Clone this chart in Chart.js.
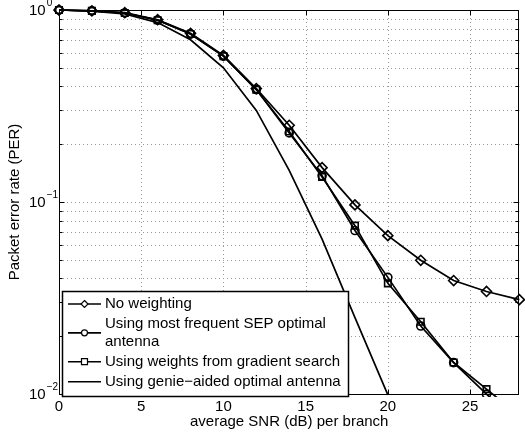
<!DOCTYPE html>
<html><head><meta charset="utf-8">
<script src="https://cdn.jsdelivr.net/npm/chart.js@4/dist/chart.umd.min.js"></script>
<style>html,body{margin:0;padding:0;background:#fff;overflow:hidden}canvas{display:block}</style>
</head><body>
<canvas id="c" width="526" height="438" style="width:526px;height:438px"></canvas>
<script>
// ---- data ----
const snr = [0, 2, 4, 6, 8, 10, 12, 14, 16, 18, 20, 22, 24, 26, 28];
const perNoWeighting     = [1.0, 0.99, 0.968, 0.89, 0.756, 0.58, 0.39, 0.251, 0.151, 0.0966, 0.0668, 0.0497, 0.039, 0.0342, 0.031];
const perMostFrequentSEP = [1.0, 0.99, 0.965, 0.885, 0.75, 0.575, 0.385, 0.229, 0.137, 0.071, 0.0405, 0.0226, 0.01457, 0.00998, 0.0069];
const perGradientSearch  = [1.0, 0.99, 0.965, 0.885, 0.75, 0.575, 0.385, 0.233, 0.135, 0.0753, 0.0377, 0.0238, 0.0146, 0.0106, 0.0077];
const snrGenie = [0, 2, 4, 6, 8, 10, 12, 14, 16, 18, 20];
const perGenie = [1.0, 0.985, 0.953, 0.86, 0.70, 0.50, 0.30, 0.146, 0.064, 0.025, 0.0099];
const seriesNames = ['No weighting', 'Using most frequent SEP optimal antenna', 'Using weights from gradient search', 'Using genie\u2212aided optimal antenna'];
const xTicks = [0, 5, 10, 15, 20, 25];
const yDecades = [0.01, 0.1, 1];
const yDecadeExponents = ['\u22122', '\u22121', '0'];
const xTitle = 'average SNR (dB) per branch';
const yTitle = 'Packet error rate (PER)';

const FONT = '"Liberation Sans", Arial, Helvetica, sans-serif';
const toPts = (xs, ys) => xs.map((x, i) => ({x: x, y: ys[i]}));
const markerStyles = ['rectRot', 'circle', 'rect', false];
const markerRadii = [5, 4, 4.6, 0];

const datasets = [
  {label: seriesNames[0], data: toPts(snr, perNoWeighting)},
  {label: seriesNames[1], data: toPts(snr, perMostFrequentSEP)},
  {label: seriesNames[2], data: toPts(snr, perGradientSearch)},
  {label: seriesNames[3], data: toPts(snrGenie, perGenie)}
].map((d, i) => Object.assign(d, {
  borderColor: '#000', borderWidth: 1.7, backgroundColor: 'rgba(0,0,0,0)',
  pointStyle: markerStyles[i] || 'circle', pointRadius: markerRadii[i],
  pointBorderColor: '#000', pointBackgroundColor: 'rgba(0,0,0,0)', pointBorderWidth: 1.6,
  pointHoverRadius: markerRadii[i], fill: false, tension: 0,
  clip: {left: 6, top: 6, right: 6, bottom: 3}
}));

function line(ctx, x1, y1, x2, y2) { ctx.beginPath(); ctx.moveTo(x1, y1); ctx.lineTo(x2, y2); ctx.stroke(); }

function drawMarker(ctx, style, x, y, r) {
  ctx.beginPath();
  if (style === 'rectRot') { ctx.moveTo(x, y - r); ctx.lineTo(x + r, y); ctx.lineTo(x, y + r); ctx.lineTo(x - r, y); ctx.closePath(); }
  else if (style === 'circle') { ctx.arc(x, y, r, 0, Math.PI * 2); }
  else if (style === 'rect') { ctx.rect(x - r, y - r, 2 * r, 2 * r); }
  else return;
  ctx.fillStyle = '#fff'; ctx.fill(); ctx.stroke();
}

function wrapText(ctx, text, maxW) {
  const words = text.split(' '); const lines = []; let cur = '';
  words.forEach(w => { const t = cur ? cur + ' ' + w : w; if (ctx.measureText(t).width > maxW && cur) { lines.push(cur); cur = w; } else cur = t; });
  if (cur) lines.push(cur); return lines;
}

const matlabAxes = {
  id: 'matlabAxes',
  beforeDatasetsDraw(chart) {
    const {ctx, chartArea: a, scales: {x, y}} = chart;
    ctx.save();
    ctx.strokeStyle = '#999'; ctx.lineWidth = 1; ctx.setLineDash([1, 3]);
    xTicks.forEach(v => { if (v <= x.min || v >= x.max) return; const px = Math.round(x.getPixelForValue(v)) + 0.5; line(ctx, px, a.top, px, a.bottom); });
    for (let d = 0; d < yDecades.length - 1; d++) {
      for (let m = 1; m < 10; m++) {
        const v = yDecades[d] * m; if (v <= y.min * 1.0001 || v >= y.max * 0.9999) continue;
        const py = Math.round(y.getPixelForValue(v)) + 0.5; line(ctx, a.left, py, a.right, py);
      }
    }
    ctx.restore();
  },
  afterDatasetsDraw(chart) {
    const {ctx, chartArea: a, scales: {x, y}} = chart;
    ctx.save();
    ctx.strokeStyle = '#000'; ctx.lineWidth = 1; ctx.setLineDash([]);
    const L = Math.round(a.left) + 0.5, R = Math.round(a.right) - 0.5, T = Math.round(a.top) + 0.5, B = Math.round(a.bottom) + 0.5;
    ctx.strokeRect(L, T, R - L, B - T);
    xTicks.forEach(v => { const px = Math.round(x.getPixelForValue(v)) + 0.5; line(ctx, px, B, px, B - 5); line(ctx, px, T, px, T + 5); });
    for (let d = 0; d < yDecades.length; d++) {
      for (let m = 1; m < 10; m++) {
        if (d === yDecades.length - 1 && m > 1) break;
        const v = yDecades[d] * m; const py = Math.round(y.getPixelForValue(v)) + 0.5;
        const len = m === 1 ? 5 : 3;
        line(ctx, L, py, L + len, py); line(ctx, R, py, R - len, py);
      }
    }
    ctx.restore();
  },
  afterDraw(chart) {
    const {ctx, scales: {y}} = chart;
    ctx.save();
    ctx.fillStyle = '#000'; ctx.textBaseline = 'middle';
    yDecades.forEach((v, i) => {
      const py = y.getPixelForValue(v);
      ctx.font = '15px ' + FONT; ctx.textAlign = 'left';
      ctx.fillText('10', 29, py + 1);
      const w = ctx.measureText('10').width;
      ctx.font = '10px ' + FONT;
      ctx.fillText(yDecadeExponents[i], 29 + w + 1, py - 7);
    });
    // legend
    const lg = {left: 62.5, top: 291.5, right: 348.5, bottom: 396.5};
    ctx.fillStyle = '#fff'; ctx.fillRect(lg.left, lg.top, lg.right - lg.left, lg.bottom - lg.top);
    ctx.strokeStyle = '#000'; ctx.lineWidth = 1.5; ctx.strokeRect(lg.left, lg.top, lg.right - lg.left, lg.bottom - lg.top);
    ctx.font = '15px ' + FONT; ctx.textBaseline = 'middle'; ctx.textAlign = 'left';
    let cy = lg.top + 12.5;
    seriesNames.forEach((name, i) => {
      const lines = wrapText(ctx, name, 236);
      const my = cy + (lines.length - 1) * 17.7 / 2;
      ctx.strokeStyle = '#000'; ctx.lineWidth = 1.6;
      line(ctx, 68, my, 101, my);
      ctx.lineWidth = 1.2;
      drawMarker(ctx, markerStyles[i], 84.5, my, i === 0 ? 3.5 : 3);
      ctx.fillStyle = '#000';
      lines.forEach((t, k) => ctx.fillText(t, 105, cy + k * 17.7));
      cy += (lines.length - 1) * 17.7 + 20;
    });
    ctx.restore();
  }
};

new Chart(document.getElementById('c'), {
  type: 'line',
  data: {datasets: datasets},
  plugins: [matlabAxes],
  options: {
    responsive: false, animation: false, devicePixelRatio: 1,
    layout: {padding: {top: 10, right: 0, bottom: 0, left: 0}},
    plugins: {legend: {display: false}, tooltip: {enabled: false}},
    scales: {
      x: {
        type: 'linear', min: 0, max: 28,
        afterFit(s) { s.height = 44; },
        afterBuildTicks(s) { s.ticks = xTicks.map(v => ({value: v})); },
        grid: {display: false, drawTicks: false}, border: {display: false},
        ticks: {color: '#000', font: {family: FONT, size: 15}, padding: 4, maxRotation: 0, autoSkip: false},
        title: {display: true, text: xTitle, color: '#000', font: {family: FONT, size: 15}, padding: {top: 0, bottom: 7}}
      },
      y: {
        type: 'logarithmic', min: 0.01, max: 1,
        afterFit(s) { s.width = 59; },
        grid: {display: false, drawTicks: false}, border: {display: false},
        ticks: {display: false},
        title: {display: true, text: yTitle, color: '#000', font: {family: FONT, size: 15}, padding: {top: 6, bottom: 0}}
      }
    }
  }
});
</script>
</body></html>
